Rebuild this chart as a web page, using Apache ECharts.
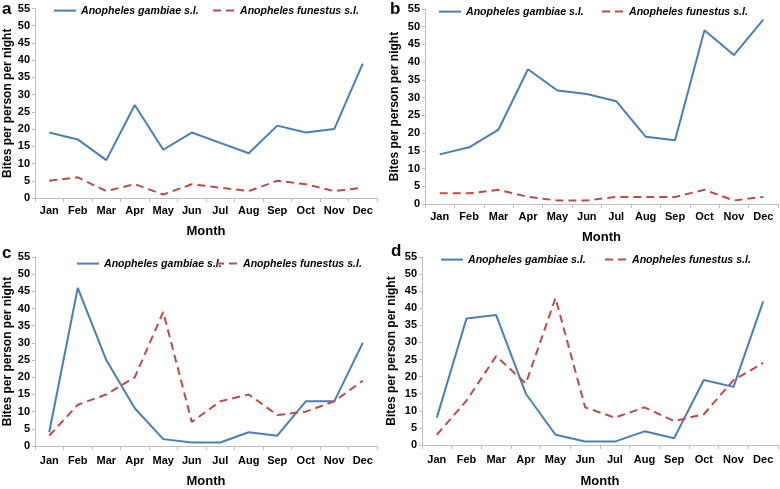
<!DOCTYPE html>
<html><head><meta charset="utf-8">
<script src="https://cdn.jsdelivr.net/npm/echarts@6/dist/echarts.min.js"></script>
<style>html,body{margin:0;padding:0;background:#fff}#c{width:780px;height:489px}</style>
</head><body><div id="c"></div>
<script>
const months = ['Jan','Feb','Mar','Apr','May','Jun','Jul','Aug','Sep','Oct','Nov','Dec'];
const seriesNames = ['Anopheles gambiae s.l.', 'Anopheles funestus s.l.'];
const panelLabels = ['a','b','c','d'];
const gambiaeA = [19,17,11,27,14,19,16,13,21,19,20,39];
const funestusA = [5,6,2,4,1,4,3,2,5,4,2,3];
const gambiaeB = [14,16,21,38,32,31,29,19,18,49,42,52];
const funestusB = [3,3,4,2,1,1,2,2,2,4,1,2];
const gambiaeC = [4,46,25,11,2,1,1,4,3,13,13,30];
const funestusC = [3,12,15,20,39,7,13,15,9,10,13,19];
const gambiaeD = [8,37,38,15,3,1,1,4,2,19,17,42];
const funestusD = [3,13,26,18,43,11,8,11,7,9,19,24];
const yMin = 0, yMax = 55, yStep = 5;
const xTitle = 'Month';
const yTitle = 'Bites per person per night';

const panels = [
  {g: gambiaeA, f: funestusA, grid:{left:35, right:403, top:8.5, bottom:291}, lab:{x:2,y:1}, leg:[{x:53,y:5},{x:212,y:5}], xLM:7, xNG:27, yNG:21},
  {g: gambiaeB, f: funestusB, grid:{left:425, right:2, top:9, bottom:285}, lab:{x:390,y:1}, leg:[{x:438,y:6},{x:601,y:6}], xLM:7, xNG:27, yNG:24},
  {g: gambiaeC, f: funestusC, grid:{left:35, right:403, top:257, bottom:36}, lab:{x:2,y:245}, leg:[{x:76,y:258},{x:215,y:258}], xLM:9, xNG:29, yNG:21},
  {g: gambiaeD, f: funestusD, grid:{left:422, right:2, top:257, bottom:35}, lab:{x:391,y:243}, leg:[{x:440,y:254},{x:604,y:254}], xLM:9, xNG:30, yNG:24}
];
const font = 'Liberation Sans, Arial, sans-serif';
const blue = '#4a7ebb', red = '#be4b48', axisGray = '#bfbfbf';
const option = {
  animation:false,
  backgroundColor:'#fff',
  textStyle:{fontFamily:font},
  title: panels.map((p,i)=>({text:panelLabels[i], left:p.lab.x, top:p.lab.y, padding:0,
    textStyle:{fontFamily:font, fontSize:17, fontWeight:'bold', color:'#000'}})),
  legend: [].concat(...panels.map((p,i)=>seriesNames.map((n,j)=>({
    data:[n], left:p.leg[j].x, top:p.leg[j].y, padding:0, itemWidth:22, itemHeight:14, itemGap:5,
    itemStyle:{opacity:0},
    textStyle:{fontFamily:font, fontSize:10.6, fontWeight:'bold', fontStyle:'italic', color:'#000'}
  })))),
  grid: panels.map(p=>Object.assign({containLabel:false}, p.grid)),
  xAxis: panels.map((p,i)=>({
    type:'category', gridIndex:i, data:months, boundaryGap:true,
    name:xTitle, nameLocation:'middle', nameGap:p.xNG,
    nameTextStyle:{fontFamily:font, fontSize:13, fontWeight:'bold', color:'#000'},
    axisLine:{lineStyle:{color:axisGray, width:1}},
    axisTick:{show:true, length:4, lineStyle:{color:axisGray}},
    axisLabel:{fontFamily:font, fontSize:11, fontWeight:'bold', color:'#000', margin:p.xLM, interval:0}
  })),
  yAxis: panels.map((p,i)=>({
    type:'value', gridIndex:i, min:yMin, max:yMax, interval:yStep,
    name:yTitle, nameLocation:'middle', nameGap:p.yNG,
    nameTextStyle:{fontFamily:font, fontSize:12, fontWeight:'bold', color:'#000'},
    axisLine:{show:true, lineStyle:{color:axisGray, width:1}},
    axisTick:{show:true, length:3, lineStyle:{color:axisGray}},
    splitLine:{show:false},
    axisLabel:{fontFamily:font, fontSize:11, fontWeight:'bold', color:'#000', margin:5}
  })),
  series: [].concat(...panels.map((p,i)=>[
    {name:seriesNames[0], type:'line', xAxisIndex:i, yAxisIndex:i, data:p.g, symbol:'none',
     lineStyle:{color:blue, width:2}, itemStyle:{color:blue}},
    {name:seriesNames[1], type:'line', xAxisIndex:i, yAxisIndex:i, data:p.f, symbol:'none',
     lineStyle:{color:red, width:2, type:[8,5]}, itemStyle:{color:red}}
  ]))
};
const chart = echarts.init(document.getElementById('c'), null, {renderer:'canvas'});
chart.setOption(option);
</script></body></html>
